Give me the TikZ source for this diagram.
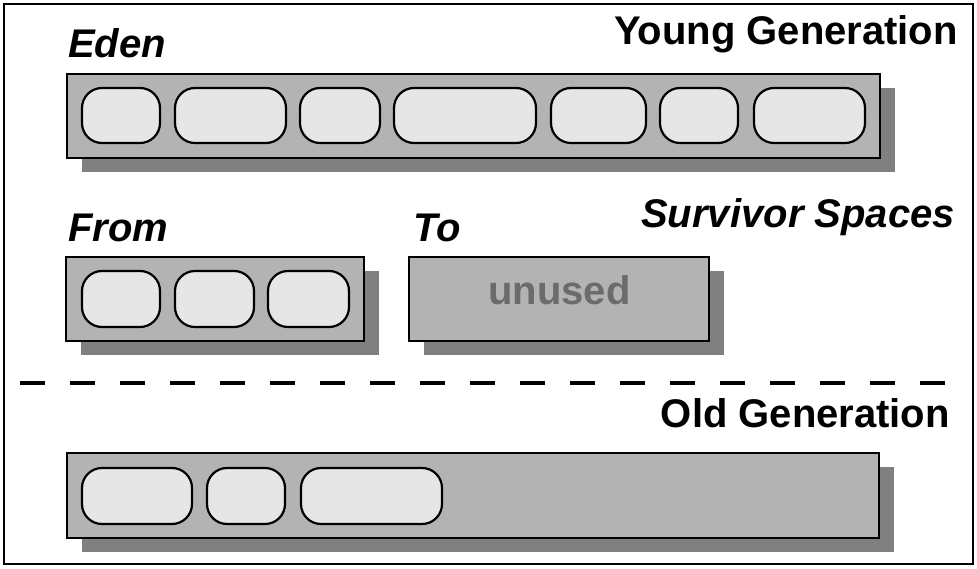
\documentclass[tikz,border=0pt]{standalone}
\usepackage{fontspec}
\setmainfont{Liberation Sans}
\usetikzlibrary{shadows}
\definecolor{boxgray}{HTML}{B3B3B3}
\definecolor{shadegray}{HTML}{808080}
\definecolor{blobgray}{HTML}{E6E6E6}
\definecolor{unusedgray}{HTML}{6B6B6B}
\tikzset{
  space/.style={draw,line width=1.5pt,fill=boxgray,inner sep=0pt,
    drop shadow={shadow xshift=15pt,shadow yshift=-14pt,opacity=1,fill=shadegray}},
  blob/.style={draw,line width=2.2pt,fill=blobgray,rounded corners=20pt,inner sep=0pt},
  gen/.style={font=\fontsize{40}{45}\selectfont\bfseries,inner sep=0pt},
  sub/.style={gen,font=\fontsize{40}{45}\selectfont\bfseries\itshape}
}
\begin{document}
\begin{tikzpicture}[x=1pt,y=-1pt]
    \useasboundingbox (0,0) rectangle (977,569);
    \draw[line width=1.5pt] (4,4) rectangle (973,564);
    % young generation
    \node[gen,anchor=base east] (young) at (958,45) {Young Generation};
    \node[sub,anchor=base west] (edenlbl) at (68,58) {Eden};
    \node[space,minimum width=813pt,minimum height=84pt] (eden) at (473.5,116) {};
    \node[blob,minimum width=78pt,minimum height=55pt] (e1) at (121,115.5) {};
    \node[blob,minimum width=111pt,minimum height=55pt] (e2) at (230.5,115.5) {};
    \node[blob,minimum width=80pt,minimum height=55pt] (e3) at (340,115.5) {};
    \node[blob,minimum width=142pt,minimum height=55pt] (e4) at (465,115.5) {};
    \node[blob,minimum width=95pt,minimum height=55pt] (e5) at (598.5,115.5) {};
    \node[blob,minimum width=78pt,minimum height=55pt] (e6) at (699,115.5) {};
    \node[blob,minimum width=111pt,minimum height=55pt] (e7) at (809.5,115.5) {};
    % survivor spaces
    \node[sub,anchor=base east] (survivor) at (955,228) {Survivor Spaces};
    \node[sub,anchor=base west] (fromlbl) at (68,242) {From};
    \node[sub,anchor=base west] (tolbl) at (413,242) {To};
    \node[space,minimum width=298pt,minimum height=84pt] (from) at (215,299) {};
    \node[blob,minimum width=78pt,minimum height=56pt] (f1) at (121,299) {};
    \node[blob,minimum width=79pt,minimum height=56pt] (f2) at (214.5,299) {};
    \node[blob,minimum width=81pt,minimum height=56pt] (f3) at (308.5,299) {};
    \node[space,minimum width=300pt,minimum height=84pt] (to) at (559,299) {};
    \node[gen,text=unusedgray,anchor=base] (unused) at (559.5,305) {unused};
    % divider
    \coordinate (dashL) at (20,383);
    \coordinate (dashR) at (945,383);
    \draw[line width=4pt,dash pattern=on 25pt off 25pt] (dashL) -- (dashR);
    % old generation
    \node[gen,anchor=base east] (oldlbl) at (950,427) {Old Generation};
    \node[space,minimum width=812pt,minimum height=85pt] (old) at (473,495.5) {};
    \node[blob,minimum width=110pt,minimum height=56pt] (o1) at (137,496) {};
    \node[blob,minimum width=78pt,minimum height=56pt] (o2) at (246,496) {};
    \node[blob,minimum width=141pt,minimum height=56pt] (o3) at (371.5,496) {};
\end{tikzpicture}
\end{document}
